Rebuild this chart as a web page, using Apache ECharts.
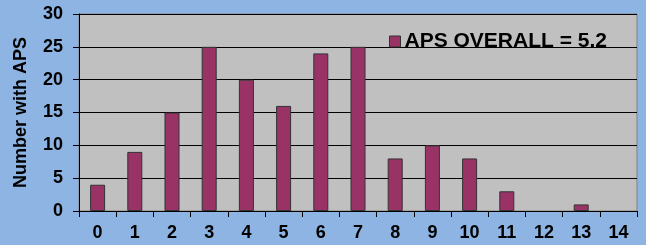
<!DOCTYPE html>
<html>
<head>
	<meta charset="utf-8">
	<title>APS</title>
	<script src="https://cdn.jsdelivr.net/npm/echarts@6/dist/echarts.min.js"></script>
	<style type="text/css">
		html,body{
			margin: 0;
			padding: 0;
			width: 100%;
			height: 100%;
			background: #8db4e2;
			overflow: hidden;
		}
		#main{
			width: 646px;
			height: 245px;
		}
	</style>
</head>
<body>
<div id="main"></div>
<script>
    // x轴类别
    var categories = ['0','1','2','3','4','5','6','7','8','9','10','11','12','13','14'];
    // 柱子数值
    var counts = [4, 9, 15, 25, 20, 16, 24, 25, 8, 10, 8, 3, 0, 1, 0];
    var seriesName = 'APS OVERALL = 5.2';

    var myChart = echarts.init(document.getElementById('main'));
    var font = '"Liberation Sans", Arial, sans-serif';
    var option = {
        backgroundColor: '#8db4e2',
        animation: false,
        legend: {
            data: [seriesName],
            left: 384,
            top: 26,
            itemWidth: 11,
            itemHeight: 11,
            itemGap: 4,
            icon: 'rect',
            itemStyle: { borderColor: '#333', borderWidth: 1 },
            textStyle: { fontFamily: font, fontWeight: 'bold', fontSize: 21, color: '#000', padding: [0,0,0,-1] }
        },
        grid: {
            left: 79,
            right: 9,
            top: 14,
            bottom: 34,
            show: true,
            backgroundColor: '#c0c0c0',
            borderColor: '#808080',
            borderWidth: 1
        },
        xAxis: {
            type: 'category',
            data: categories,
            axisLine: { lineStyle: { color: '#000', width: 1 } },
            axisTick: { show: true, length: 6, lineStyle: { color: '#000' } },
            axisLabel: { color: '#000', fontFamily: font, fontWeight: 'bold', fontSize: 18, margin: 13 }
        },
        yAxis: {
            type: 'value',
            min: 0,
            max: 30,
            interval: 5,
            name: 'Number with APS',
            nameLocation: 'middle',
            nameGap: 49,
            nameTextStyle: { color: '#000', fontFamily: font, fontWeight: 'bold', fontSize: 18 },
            axisLine: { show: true, lineStyle: { color: '#000', width: 1 } },
            axisTick: { show: true, length: 6, lineStyle: { color: '#000' } },
            axisLabel: { color: '#000', fontFamily: font, fontWeight: 'bold', fontSize: 18, margin: 16 },
            splitLine: { lineStyle: { color: '#000', width: 1 } }
        },
        series: [
            {
                name: seriesName,
                type: 'bar',
                // 0 值不画柱子
                data: counts.map(function (v) { return v === 0 ? null : v; }),
                barWidth: 15,
                itemStyle: { color: '#993366', borderColor: '#333', borderWidth: 1 }
            }
        ]
    };
    myChart.setOption(option);
</script>
</body>
</html>
